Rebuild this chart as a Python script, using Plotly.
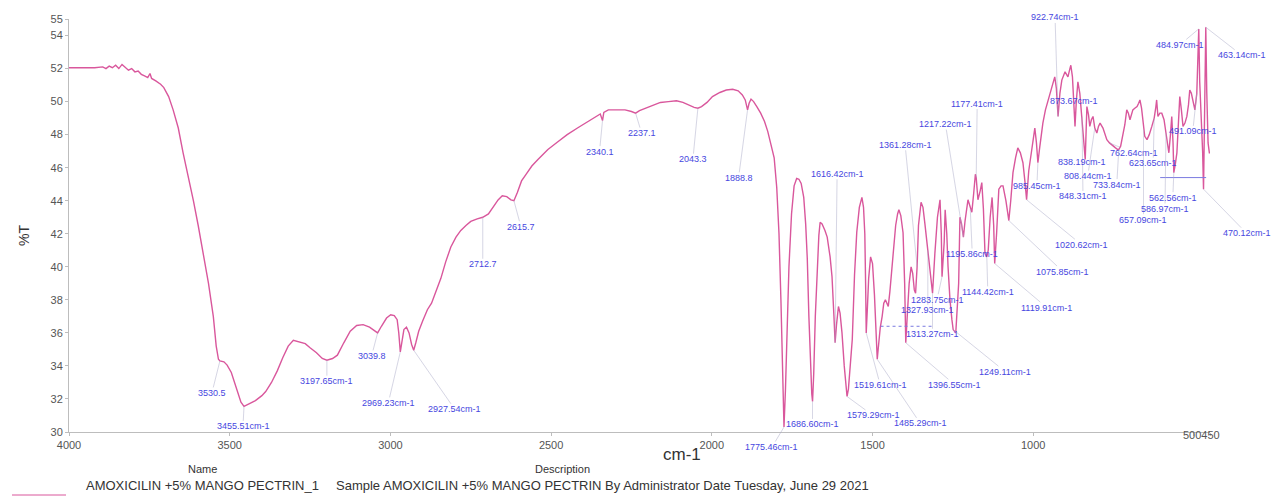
import numpy as np
import plotly.graph_objects as go

# FTIR spectrum: wavenumber (cm-1) and transmittance (%T)
wavenumber = [
    4000, 3960, 3920, 3895, 3885, 3875, 3865, 3855, 3845, 3835, 3825, 3815, 3805, 3795,
    3785, 3775, 3765, 3755, 3748, 3743, 3730, 3715, 3705, 3690, 3676, 3660, 3645, 3630,
    3613, 3598, 3582, 3566, 3551, 3542, 3535, 3530.5, 3518, 3508, 3495, 3478, 3465, 3455.51,
    3440, 3420, 3400, 3388, 3370, 3352, 3335, 3318, 3302, 3285, 3265, 3250, 3230, 3212,
    3197.65, 3180, 3165, 3145, 3125, 3105, 3085, 3065, 3048, 3039.8, 3028, 3012, 2999, 2988,
    2979, 2974, 2969.23, 2965, 2958, 2950, 2942, 2934, 2927.54, 2921, 2912, 2900, 2885, 2872,
    2858, 2843, 2828, 2812, 2796, 2781, 2765, 2750, 2730, 2712.7, 2695, 2680, 2665, 2652,
    2638, 2625, 2615.7, 2605, 2592, 2578, 2560, 2541, 2510, 2480, 2450, 2418, 2386, 2358,
    2347, 2340.1, 2336, 2322, 2300, 2270, 2250, 2237.1, 2225, 2205, 2180, 2160, 2135, 2110,
    2090, 2070, 2055, 2043.3, 2032, 2015, 1998, 1975, 1955, 1935, 1918, 1905, 1896, 1888.8,
    1884, 1878, 1870, 1860, 1848, 1836, 1826, 1816, 1806, 1798, 1791, 1785, 1780, 1777,
    1775.46, 1771, 1766, 1760, 1752, 1744, 1736, 1729, 1722, 1714, 1708, 1703, 1698, 1694,
    1689, 1686.6, 1683, 1678, 1672, 1667, 1663, 1657, 1648, 1641, 1632, 1626, 1620, 1616.42,
    1612, 1606, 1601, 1595, 1588, 1582, 1579.29, 1575, 1569, 1563, 1556, 1549, 1541, 1533,
    1528, 1524, 1521.5, 1519.61, 1516, 1512, 1506, 1500, 1494, 1489, 1485.29, 1481, 1476, 1470,
    1465, 1460, 1455, 1451, 1446, 1440, 1435, 1428, 1422, 1418, 1412, 1405, 1400, 1396.55,
    1392, 1386, 1380, 1375, 1370, 1366, 1361.28, 1357, 1349, 1343, 1337, 1327.93, 1321, 1316,
    1313.27, 1306, 1298, 1290, 1286, 1283.75, 1277, 1274, 1269, 1265, 1259, 1253, 1249.11, 1241,
    1237, 1232, 1228, 1223, 1217.22, 1212, 1203, 1195.86, 1191, 1185, 1180, 1177.41, 1172, 1165,
    1160, 1155, 1150, 1144.42, 1140, 1134, 1128, 1123, 1119.91, 1114, 1107, 1100, 1094, 1085,
    1075.85, 1070, 1063, 1055, 1048, 1040, 1032, 1026, 1020.62, 1014, 1004, 995, 990, 985.45,
    980, 970, 962, 954, 948, 942, 937, 933, 928, 922.74, 917, 911, 901, 892,
    887, 883, 878, 873.67, 870, 866, 861, 855, 848.31, 844, 838.19, 835, 833, 828,
    824, 819, 814, 808.44, 802, 797, 792, 783, 771, 762.64, 752, 744, 737, 733.84,
    728, 721, 715, 709, 704, 699, 694, 690, 684, 677, 672, 668, 663, 657.09,
    653, 646, 639, 631, 623.65, 619, 616, 612, 606, 600, 593, 586.97, 583, 578,
    573, 569, 565, 562.56, 558, 553, 548, 544, 539, 534, 528, 522, 517, 513,
    508, 503, 497, 491.09, 488, 484.97, 482, 477, 473, 470.12, 468, 466, 463.14, 460,
    456, 452, 450,
]
transmittance = [
    52.05, 52.05, 52.05, 52.1, 52.0, 52.15, 52.05, 52.2, 52.0, 52.25, 52.05, 51.9, 52.0, 51.8,
    51.85, 51.65, 51.55, 51.45, 51.7, 51.4, 51.25, 51.05, 50.85, 50.3, 49.5, 48.4, 46.9, 45.6,
    44.0, 42.5, 40.8, 39.0, 37.0, 35.2, 34.4, 34.3, 34.25, 34.05, 33.6, 32.6, 31.8, 31.55,
    31.7, 31.9, 32.2, 32.45, 33.0, 33.7, 34.5, 35.2, 35.55, 35.45, 35.35, 35.1, 34.8, 34.45,
    34.35, 34.45, 34.65, 35.4, 36.1, 36.45, 36.5, 36.35, 36.1, 36.0, 36.4, 36.9, 37.1, 37.05,
    36.8, 36.0, 34.85, 35.4, 36.2, 36.35, 36.0, 35.3, 34.95, 35.4, 36.1, 36.7, 37.4, 37.8,
    38.5, 39.3, 40.3, 41.2, 41.8, 42.2, 42.5, 42.75, 42.9, 43.0, 43.2, 43.6, 44.05, 44.3,
    44.25, 44.05, 44.0, 44.5, 45.2, 45.6, 46.1, 46.5, 47.1, 47.55, 48.0, 48.4, 48.8, 49.1,
    49.25, 48.85, 49.35, 49.5, 49.5, 49.5, 49.4, 49.3, 49.45, 49.6, 49.8, 49.95, 50.0, 50.05,
    49.95, 49.75, 49.65, 49.6, 49.7, 49.95, 50.3, 50.55, 50.7, 50.75, 50.65, 50.4, 50.1, 49.5,
    49.9, 50.15, 50.0, 49.7, 49.3, 48.8, 48.2, 47.4, 46.6, 44.8, 42.0, 38.0, 34.0, 31.2,
    30.3, 32.5, 36.0, 40.0, 43.2, 44.9, 45.35, 45.3, 45.05, 44.2, 42.6, 40.5, 37.0, 34.5,
    32.3, 31.85, 33.5, 37.0, 40.0, 41.9, 42.7, 42.6, 42.2, 41.8, 40.6, 39.4, 37.0, 35.4,
    36.5, 37.6, 37.2, 36.0, 34.0, 32.5, 32.15, 32.6, 34.0, 35.6, 39.5, 42.1, 43.6, 44.2,
    43.6, 42.0, 39.0, 36.0, 37.5, 39.3, 40.6, 40.2, 38.3, 36.0, 34.4, 35.3, 36.3, 37.0,
    37.8, 38.0, 37.8, 37.6, 38.5, 39.8, 41.0, 42.5, 43.2, 43.45, 43.1, 42.06, 39.0, 35.4,
    37.0, 39.0, 40.0, 39.6, 38.6, 38.4, 40.0, 42.5, 43.9, 43.6, 42.6, 41.0, 39.6, 39.0,
    38.4, 40.8, 43.0, 44.06, 42.0, 39.4, 41.5, 43.45, 42.0, 40.0, 38.0, 36.8, 36.2, 36.0,
    37.3, 39.0, 43.0, 42.6, 41.8, 42.8, 44.06, 43.5, 43.3, 44.5, 45.6, 45.4, 44.06, 44.6,
    45.1, 43.5, 40.8, 40.6, 41.0, 43.0, 44.2, 42.5, 40.2, 42.0, 44.7, 44.9, 44.9, 44.0,
    42.8, 44.0, 45.7, 46.6, 47.2, 46.9, 46.3, 45.2, 44.06, 45.8, 47.3, 48.4, 47.5, 46.3,
    47.2, 48.7, 49.5, 50.1, 50.5, 50.9, 51.3, 51.5, 50.8, 49.1, 50.5, 51.3, 51.8, 51.5,
    51.9, 52.2, 51.5, 49.8, 48.5, 50.0, 51.2, 50.5, 49.1, 48.0, 46.5, 48.5, 49.7, 49.2,
    48.5, 48.9, 49.1, 48.4, 48.1, 48.5, 48.7, 48.4, 47.7, 47.5, 47.3, 47.2, 47.1, 47.1,
    47.3, 47.9, 48.6, 49.5, 49.3, 48.9, 49.3, 49.5, 49.6, 49.7, 49.9, 50.1, 49.6, 48.3,
    47.9, 47.7, 48.0, 48.5, 49.0, 49.6, 50.1, 49.1, 49.3, 49.3, 48.9, 48.1, 47.5, 46.9,
    48.0, 49.1, 47.5, 45.7, 46.2, 46.9, 48.8, 50.3, 49.5, 48.5, 48.7, 49.1, 49.8, 50.7,
    50.5, 50.1, 49.5, 50.5, 52.5, 54.4, 51.2, 49.1, 47.0, 44.7, 47.5, 50.9, 54.5, 50.5,
    47.5, 46.9, 46.9,
]

# Peak-pick labels: text, band position, and label offset (px) from the band
peak_labels = [
    "3530.5", "3455.51cm-1", "3197.65cm-1", "3039.8", "2969.23cm-1", "2927.54cm-1",
    "2712.7", "2615.7", "2340.1", "2237.1", "2043.3", "1888.8", "1775.46cm-1",
    "1686.60cm-1", "1616.42cm-1", "1579.29cm-1", "1519.61cm-1", "1485.29cm-1",
    "1396.55cm-1", "1361.28cm-1", "1327.93cm-1", "1313.27cm-1", "1283.75cm-1",
    "1249.11cm-1", "1217.22cm-1", "1195.86cm-1", "1177.41cm-1", "1144.42cm-1",
    "1119.91cm-1", "1075.85cm-1", "1020.62cm-1", "985.45cm-1", "922.74cm-1",
    "873.67cm-1", "848.31cm-1", "838.19cm-1", "808.44cm-1", "762.64cm-1", "733.84cm-1",
    "657.09cm-1", "623.65cm-1", "586.97cm-1", "562.56cm-1", "491.09cm-1",
    "484.97cm-1", "470.12cm-1", "463.14cm-1",
]
peak_positions = [
    3530.5, 3455.51, 3197.65, 3039.8, 2969.23, 2927.54,
    2712.7, 2615.7, 2340.1, 2237.1, 2043.3, 1888.8, 1775.46,
    1686.60, 1616.42, 1579.29, 1519.61, 1485.29,
    1396.55, 1361.28, 1327.93, 1313.27, 1283.75,
    1249.11, 1217.22, 1195.86, 1177.41, 1144.42,
    1119.91, 1075.85, 1020.62, 985.45, 922.74,
    873.67, 848.31, 838.19, 808.44, 762.64, 733.84,
    657.09, 623.65, 586.97, 562.56, 491.09,
    484.97, 470.12, 463.14,
]
label_dx = [
    -8, -1, 0, -6, -12, 41,
    0, 7, -3, 6, -5, -9, -12,
    0, 2, 26, 14, 43,
    49, -12, 0, 0, -5,
    52, -18, 2, 1, 1,
    52, 54, 55, -1, -3,
    0, 1, -3, -7, 24, -2,
    0, -1, -1, -1, -4,
    -19, 43, 36,
]
label_dy = [
    32, 20, 21, 23, 51, 59,
    47, 26, 31, 20, 51, 68, 20,
    23, -169, 19, 52, 64,
    42, -122, 60, 41, 23,
    42, -113, 45, -74, 35,
    44, 51, 45, 23, -99,
    -4, 80, 3, 48, 10, 35,
    90, 45, 76, 25, 38,
    16, 44, 28,
]

x_ticks = [4000, 3500, 3000, 2500, 2000, 1500, 1000, 500, 450]
x_tick_text = ["4000", "3500", "3000", "2500", "2000", "1500", "1000", "", ""]
y_ticks = [30, 32, 34, 36, 38, 40, 42, 44, 46, 48, 50, 52, 54, 55]

series_name = "AMOXICILIN +5% MANGO PECTRIN_1"
series_desc = "Sample AMOXICILIN +5% MANGO PECTRIN By Administrator Date Tuesday, June 29 2021"

FONT = "Liberation Sans, Arial, sans-serif"
LINE_COLOR = "#d9579c"
LABEL_COLOR = "#4646e0"
AXIS_COLOR = "#bdbdbd"
TEXT_COLOR = "#333333"

fig = go.Figure()
fig.add_trace(go.Scatter(
    x=wavenumber, y=transmittance, mode="lines", name=series_name,
    line=dict(color=LINE_COLOR, width=1.4), showlegend=False, hoverinfo="skip",
))

# band labels with thin leader lines down to the curve
wn_inc = np.array(wavenumber[::-1], dtype=float)
t_inc = np.array(transmittance[::-1], dtype=float)
annotations = []
for text, pos, dx, dy in zip(peak_labels, peak_positions, label_dx, label_dy):
    annotations.append(dict(
        x=pos, y=float(np.interp(pos, wn_inc, t_inc)), xref="x", yref="y",
        text=text, showarrow=True, arrowhead=0, arrowwidth=0.8,
        arrowcolor="rgba(170,170,200,0.6)", ax=dx, ay=dy, standoff=0,
        font=dict(family=FONT, size=9, color=LABEL_COLOR), borderpad=0,
    ))

PLOT_W, PLOT_H = 1141, 413


def px_x(px):
    return (px - 69) / PLOT_W


def px_y(py):
    return (432 - py) / PLOT_H


annotations += [
    dict(x=475, y=px_y(443), xref="x", yref="paper", text="500450", showarrow=False,
         font=dict(family=FONT, size=11, color="#555555")),
    dict(x=px_x(682), y=px_y(466), xref="paper", yref="paper", text="cm-1", showarrow=False,
         font=dict(family=FONT, size=17, color=TEXT_COLOR)),
    dict(x=px_x(14), y=px_y(236), xref="paper", yref="paper", text="%T", showarrow=False,
         textangle=-90, font=dict(family=FONT, size=14, color=TEXT_COLOR)),
    dict(x=px_x(186), y=px_y(477), xref="paper", yref="paper", text="Name", showarrow=False,
         font=dict(family=FONT, size=11, color=TEXT_COLOR)),
    dict(x=px_x(562), y=px_y(477), xref="paper", yref="paper", text="Description", showarrow=False,
         font=dict(family=FONT, size=11, color=TEXT_COLOR)),
    dict(x=px_x(84), y=px_y(495), xref="paper", yref="paper", text=series_name, showarrow=False,
         xanchor="left", font=dict(family=FONT, size=13, color=TEXT_COLOR)),
    dict(x=px_x(334), y=px_y(495), xref="paper", yref="paper", text=series_desc, showarrow=False,
         xanchor="left", font=dict(family=FONT, size=13, color=TEXT_COLOR)),
]

shapes = [
    # legend line sample
    dict(type="line", xref="paper", yref="paper", x0=px_x(12), x1=px_x(66),
         y0=px_y(495), y1=px_y(495), line=dict(color=LINE_COLOR, width=1)),
    # baseline markers left by the peak-picking tool
    dict(type="line", xref="x", yref="y", x0=605, x1=462, y0=45.4, y1=45.4,
         line=dict(color="#7a7ae0", width=1)),
    dict(type="line", xref="x", yref="y", x0=1475, x1=1310, y0=36.4, y1=36.4,
         line=dict(color="#7a7ae0", width=1, dash="dot")),
]

fig.update_layout(
    width=1281, height=502, autosize=False,
    margin=dict(l=69, r=71, t=19, b=70),
    paper_bgcolor="white", plot_bgcolor="white",
    font=dict(family=FONT, size=11, color="#555555"),
    annotations=annotations, shapes=shapes, hovermode=False,
    xaxis=dict(
        range=[4000, 450], tickmode="array", tickvals=x_ticks, ticktext=x_tick_text,
        tickangle=0, showgrid=False, zeroline=False, showline=True, linecolor=AXIS_COLOR,
        linewidth=1, ticks="outside", ticklen=3, tickcolor=AXIS_COLOR,
        tickfont=dict(family=FONT, size=11, color="#555555"),
    ),
    yaxis=dict(
        range=[30, 55], tickmode="array", tickvals=y_ticks, showgrid=False, zeroline=False,
        showline=True, linecolor=AXIS_COLOR, linewidth=1, ticks="outside", ticklen=3,
        tickcolor=AXIS_COLOR, tickfont=dict(family=FONT, size=11, color="#555555"),
    ),
)

fig.write_html("out.html")
